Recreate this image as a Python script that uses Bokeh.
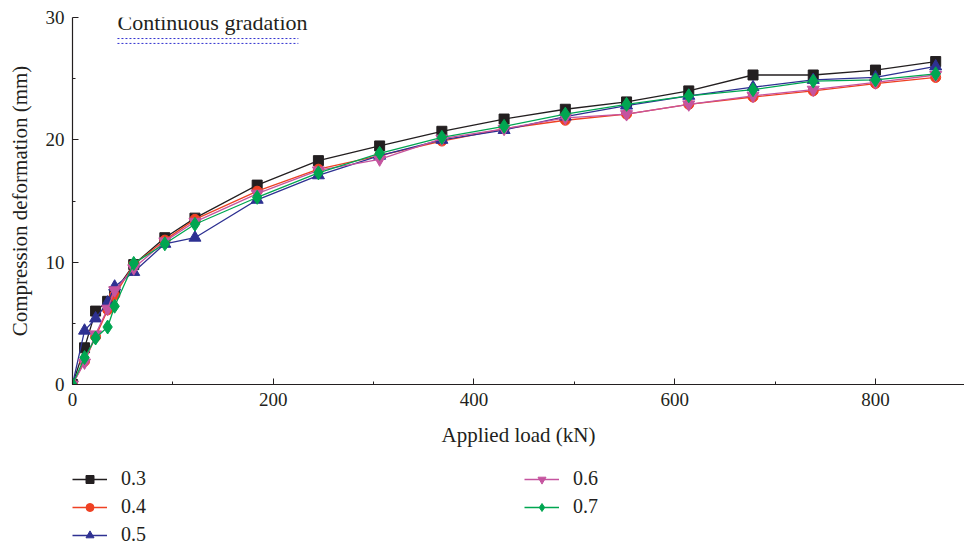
from bokeh.plotting import figure
from bokeh.layouts import column
from bokeh.models import Range1d, Legend, LegendItem, Label, FixedTicker
from bokeh.embed import file_html
from bokeh.resources import INLINE

# ---- data ----
load_kn = [0, 12, 23, 35, 42, 61, 92, 122, 184, 245, 306, 368, 430, 491, 552, 614, 678, 738, 800, 860]
s03 = [0, 3.0, 6.0, 6.8, 7.6, 9.8, 12.0, 13.6, 16.3, 18.3, 19.5, 20.7, 21.7, 22.5, 23.1, 24.0, 25.3, 25.3, 25.7, 26.4]
s04 = [0, 1.9, 3.9, 6.1, 7.3, 9.8, 11.8, 13.5, 15.8, 17.6, 18.7, 19.9, 20.9, 21.6, 22.1, 22.9, 23.5, 24.0, 24.6, 25.1]
s05 = [0, 4.4, 5.4, 6.7, 8.0, 9.2, 11.5, 12.0, 15.1, 17.1, 18.7, 20.0, 20.8, 21.9, 22.8, 23.6, 24.3, 24.9, 25.1, 26.0]
s06 = [0, 1.8, 4.1, 6.2, 7.7, 9.5, 11.7, 13.3, 15.6, 17.5, 18.4, 20.1, 20.9, 21.8, 22.1, 22.9, 23.6, 24.1, 24.7, 25.3]
s07 = [0, 2.2, 3.8, 4.7, 6.4, 9.9, 11.5, 13.1, 15.3, 17.3, 18.9, 20.2, 21.1, 22.1, 22.9, 23.6, 24.1, 24.8, 24.9, 25.4]
series_labels = ["0.3", "0.4", "0.5", "0.6", "0.7"]
x_ticks = [0, 200, 400, 600, 800]
y_ticks = [0, 10, 20, 30]
title_text = "Continuous gradation"

colors = ["#231f20", "#ef4123", "#2e3192", "#c5549f", "#00a651"]
markers = ["square", "circle", "triangle", "inverted_triangle", "diamond"]
msizes = [10, 10, 12, 12, 14]
FONT = "Liberation Serif"
TXT = "#231f20"

p = figure(width=964, height=455, output_backend="svg", toolbar_location=None,
           x_range=Range1d(0, 888.7), y_range=Range1d(0, 30),
           min_border_left=72, min_border_right=0, min_border_top=17, min_border_bottom=71)
p.outline_line_color = None
p.xgrid.visible = False
p.ygrid.visible = False

for ax in (p.xaxis[0], p.yaxis[0]):
    ax.axis_line_color = TXT
    ax.axis_line_width = 1.2
    ax.major_tick_in = 6
    ax.major_tick_out = 0
    ax.minor_tick_in = 3
    ax.minor_tick_out = 0
    ax.major_tick_line_color = TXT
    ax.minor_tick_line_color = TXT
    ax.major_label_text_font = FONT
    ax.major_label_text_font_size = "19px"
    ax.major_label_text_color = TXT
    ax.axis_label_text_font = FONT
    ax.axis_label_text_font_size = "21px"
    ax.axis_label_text_font_style = "normal"
    ax.axis_label_text_color = TXT

p.xaxis.ticker = FixedTicker(ticks=x_ticks, minor_ticks=[100, 300, 500, 700])
p.yaxis.ticker = FixedTicker(ticks=y_ticks, minor_ticks=[5, 15, 25])
p.xaxis.axis_label = "Applied load (kN)"
p.yaxis.axis_label = "Compression deformation (mm)"
p.xaxis.major_label_standoff = 8
p.yaxis.major_label_standoff = 8
p.xaxis.axis_label_standoff = 14
p.yaxis.axis_label_standoff = 11

# legend figure below the chart (its ranges keep its key renderers out of view)
lg = figure(width=964, height=91, output_backend="svg", toolbar_location=None,
            x_axis_type=None, y_axis_type=None,
            x_range=Range1d(-2000, -1000), y_range=Range1d(-2000, -1000),
            min_border_left=0, min_border_right=0, min_border_top=0, min_border_bottom=0)
lg.outline_line_color = None

items = []
for ys, lab, c, m, s in zip([s03, s04, s05, s06, s07], series_labels, colors, markers, msizes):
    p.line(load_kn, ys, line_color=c, line_width=1.3)
    p.scatter(load_kn, ys, marker=m, size=s, fill_color=c, line_color=c)
    kl = lg.line(load_kn, ys, line_color=c, line_width=1.3)
    ks = lg.scatter(load_kn, ys, marker=m, size=s, fill_color=c, line_color=c)
    items.append(LegendItem(label=lab, renderers=[kl, ks]))

legend = Legend(items=items, nrows=3, location=(0, 0),
                glyph_width=35, glyph_height=20, label_height=16,
                label_standoff=14, label_width=398, spacing=5,
                padding=0, margin=0, border_line_color=None, background_fill_alpha=0,
                label_text_font=FONT, label_text_font_size="20px", label_text_color=TXT)
lg.add_layout(legend, "center")

# title inside plot and dotted decoration
title = Label(x=44.8, y=29.59, text=title_text, text_font=FONT, text_font_size="22px",
              text_color=TXT, text_baseline="middle")
p.add_layout(title)
p.line([44.8, 225], [28.28, 28.28], line_color="#3030d0", line_dash="2 2", line_width=1)
p.line([44.8, 225], [27.88, 27.88], line_color="#3030d0", line_dash="2 2", line_width=1)

layout = column(p, lg, spacing=0)
open("out.html", "w").write(file_html(layout, INLINE))
